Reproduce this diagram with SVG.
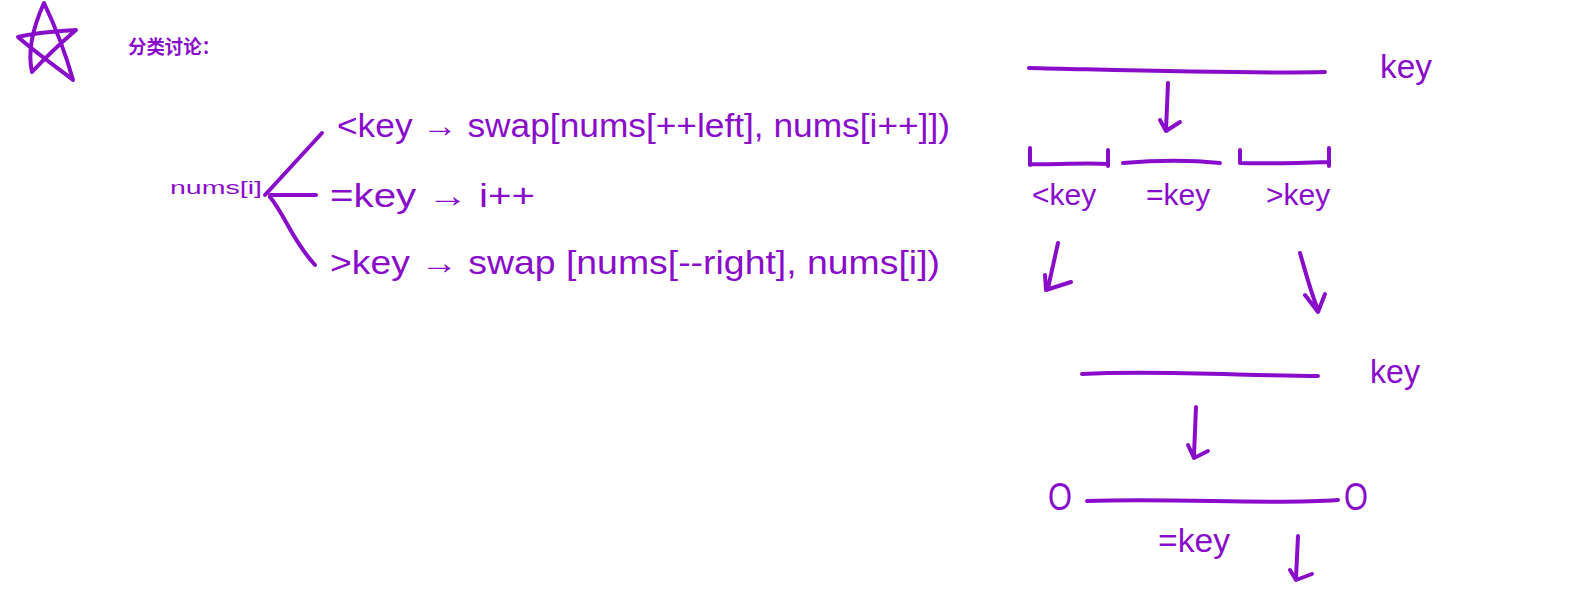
<svg xmlns="http://www.w3.org/2000/svg" width="1576" height="597" viewBox="0 0 1576 597">
<style>
.s{fill:none;stroke:#8A0CCB;stroke-width:4;stroke-linecap:round;stroke-linejoin:round}
.t{fill:#8A0CCB;font-family:"Liberation Sans","Noto Sans CJK SC",sans-serif}
.h{font-size:34px}
.m{font-size:34px}
.l{font-size:30px}
</style>
<rect width="1576" height="597" fill="#fff"/>
<g id="star"><path class="s" d="M44,3 C34,25 27,50 32,72 C45,58 62,42 76,30 C58,31 36,32 18,37 C35,52 55,66 73,80 C66,55 56,28 44,3 Z"/></g>
<g id="title"><text class="t" x="128" y="54" font-size="19" font-weight="bold" textLength="92" lengthAdjust="spacingAndGlyphs">分类讨论：</text></g>
<g id="numsi"><text class="t" x="170" y="194" font-size="18" textLength="92" lengthAdjust="spacingAndGlyphs">nums[i]</text></g>
<g id="case-lt"><text class="t h" x="337" y="137" textLength="613" lengthAdjust="spacingAndGlyphs">&lt;key → swap[nums[++left], nums[i++]])</text></g>
<g id="case-eq"><text class="t h" x="330" y="207" textLength="205" lengthAdjust="spacingAndGlyphs">=key → i++</text></g>
<g id="case-gt"><text class="t h" x="330" y="274" textLength="610" lengthAdjust="spacingAndGlyphs">&gt;key → swap [nums[--right], nums[i])</text></g>
<g id="range-top">
<path class="s" d="M1029,68 C1120,70 1240,74 1325,72"/>
<text class="t m" x="1380" y="78" textLength="52" lengthAdjust="spacingAndGlyphs">key</text>
</g>
<g id="parts">
<path class="s" d="M1030,148 L1030,165 M1030,164 C1060,165 1085,162 1108,164 M1108,150 L1108,166"/>
<path class="s" d="M1123,163 C1160,160 1190,160 1220,163"/>
<path class="s" d="M1240,150 L1240,163 C1270,164 1300,163 1329,162 M1329,148 L1329,166"/>
<text class="t l" x="1032" y="205">&lt;key</text>
<text class="t l" x="1146" y="205">=key</text>
<text class="t l" x="1266" y="205">&gt;key</text>
</g>
<g id="range-bottom">
<path class="s" d="M1082,374 C1160,370 1250,376 1318,376"/>
<text class="t m" x="1370" y="383" textLength="50" lengthAdjust="spacingAndGlyphs">key</text>
</g>
<g id="result">
<text class="t" x="1048" y="510" font-size="38" textLength="24" lengthAdjust="spacingAndGlyphs">O</text>
<path class="s" d="M1087,501 C1180,498 1270,505 1338,500"/>
<text class="t" x="1344" y="510" font-size="38" textLength="24" lengthAdjust="spacingAndGlyphs">O</text>
<text class="t m" x="1158" y="552" textLength="72" lengthAdjust="spacingAndGlyphs">=key</text>
</g>
<g id="connectors">
<path class="s" d="M265,195 L322,133"/>
<path class="s" d="M270,195 L316,195"/>
<path class="s" d="M270,197 C285,215 292,240 315,265"/>
<path class="s" d="M1168,83 L1166,130 M1160,120 L1166,131 L1180,122"/>
<path class="s" d="M1058,243 L1048,288 M1045,275 L1046,290 L1071,282"/>
<path class="s" d="M1300,253 C1305,270 1310,290 1318,310 M1305,295 L1318,312 L1325,294"/>
<path class="s" d="M1196,407 L1194,455 M1188,445 L1194,458 L1208,451"/>
<path class="s" d="M1298,536 L1296,578 M1290,570 L1296,580 L1312,574"/>
</g>
</svg>
